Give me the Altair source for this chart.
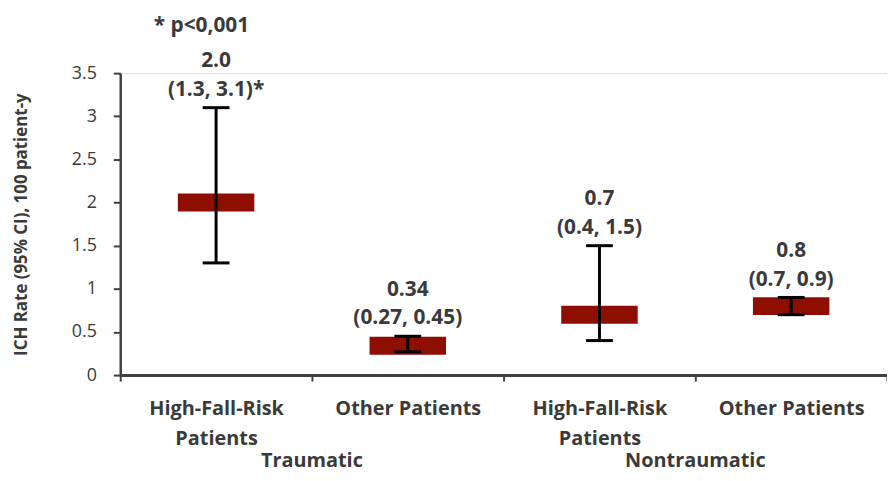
import altair as alt
import pandas as pd

# ---- data ----
groups = ["Traumatic", "Traumatic", "Nontraumatic", "Nontraumatic"]
categories = ["High-Fall-Risk Patients", "Other Patients", "High-Fall-Risk Patients", "Other Patients"]
rates = [2.0, 0.34, 0.7, 0.8]
ci_low = [1.3, 0.27, 0.4, 0.7]
ci_high = [3.1, 0.45, 1.5, 0.9]
rate_labels = ["2.0", "0.34", "0.7", "0.8"]
ci_labels = ["(1.3, 3.1)*", "(0.27, 0.45)", "(0.4, 1.5)", "(0.7, 0.9)"]
group_order = ["Traumatic", "Nontraumatic"]
y_ticks = [0, 0.5, 1, 1.5, 2, 2.5, 3, 3.5]
note = "* p<0,001"
y_title = "ICH Rate (95% CI), 100 patient-y"

keys = [f"{g}: {c}" for g, c in zip(groups, categories)]
df = pd.DataFrame(dict(key=keys, group=groups, rate=rates, lo=ci_low, hi=ci_high,
                       rl=rate_labels, cl=ci_labels))

FONT = "Open Sans"
TXT = "#3a3a3a"
AX = "#404040"
BOX = "#8E0F02"

x_enc = alt.X(
    "key:N", sort=keys,
    scale=alt.Scale(paddingInner=0, paddingOuter=0),
    axis=alt.Axis(
        title=None, labelAngle=0, tickBand="extent",
        labelExpr="datum.label ? split(replace(split(datum.label, ': ')[1], 'Risk ', 'Risk|'), '|') : ''",
        labelFont=FONT, labelFontSize=20, labelFontWeight="bold", labelColor=TXT,
        labelLineHeight=30, labelPadding=28, labelBaseline="middle",
        domainColor=AX, domainWidth=3, tickColor=AX, tickWidth=2, tickSize=6,
    ),
)
y_enc = alt.Y(
    "rate:Q",
    scale=alt.Scale(domain=[0, 3.5], nice=False),
    axis=alt.Axis(
        values=y_ticks, format="~g", title=y_title, grid=False,
        labelFont=FONT, labelFontSize=18, labelColor=TXT, labelPadding=17,
        titleFont=FONT, titleFontSize=17, titleFontWeight="bold", titleColor=TXT,
        titlePadding=41, domainColor=AX, domainWidth=2.5, tickColor=AX,
        tickWidth=2, tickSize=7,
    ),
)

base = alt.Chart(df)

boxes = base.mark_tick(size=77, thickness=18, color=BOX, opacity=1, orient="horizontal").encode(x=x_enc, y=y_enc)
rule = base.mark_rule(color="black", strokeWidth=3).encode(x=x_enc, y="lo:Q", y2="hi:Q")
cap_lo = base.mark_tick(size=27, thickness=3, color="black", opacity=1, orient="horizontal").encode(x=x_enc, y="lo:Q")
cap_hi = base.mark_tick(size=27, thickness=3, color="black", opacity=1, orient="horizontal").encode(x=x_enc, y="hi:Q")
txt_rate = base.mark_text(dy=-47, font=FONT, fontSize=21, fontWeight="bold", color=TXT).encode(
    x=x_enc, y="hi:Q", text="rl:N")
txt_ci = base.mark_text(dy=-18, font=FONT, fontSize=21, fontWeight="bold", color=TXT).encode(
    x=x_enc, y="hi:Q", text="cl:N")

main = alt.layer(boxes, rule, cap_lo, cap_hi, txt_rate, txt_ci)

group_layer = base.mark_tick(opacity=0).encode(
    x=alt.X("group:N", sort=group_order,
            scale=alt.Scale(paddingInner=0, paddingOuter=0),
            axis=alt.Axis(title=None, orient="bottom", domain=False, ticks=False,
                          labelAngle=0, labelFont=FONT, labelFontSize=20,
                          labelFontWeight="bold", labelColor=TXT, labelPadding=86,
                          labelBaseline="middle")),
    y="rate:Q",
)

chart = alt.layer(main, group_layer).resolve_scale(x="independent").properties(
    width=772, height=304,
    autosize=alt.AutoSizeParams(type="none"),
    padding={"left": 113, "top": 64, "right": 0, "bottom": 97},
    title=alt.Title(note, anchor="start", dx=142, offset=14, font=FONT, fontSize=21,
                    fontWeight="bold", color=TXT),
).configure_view(stroke=None).configure(background="white")

chart.save("out.html", embed_options={"renderer": "svg", "actions": False})
